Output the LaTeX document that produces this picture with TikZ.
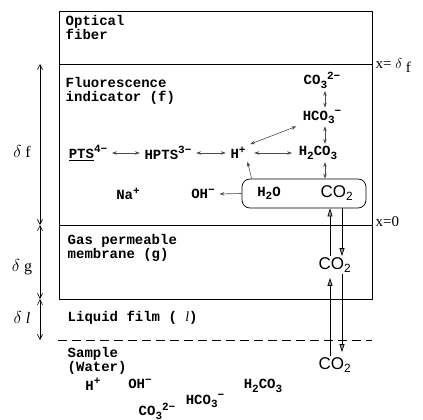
\documentclass[tikz,border=0pt]{standalone}
\usepackage{fontspec}
\setmainfont{Liberation Serif}
\setsansfont{Liberation Sans}
\setmonofont{Liberation Mono}
\usetikzlibrary{arrows.meta,positioning,calc}
\definecolor{rxgray}{gray}{0.3}
\definecolor{tipgray}{gray}{0.6}
\newcommand\sbs[1]{\raisebox{-0.45ex}{\fontsize{11}{11}\selectfont #1}}
\newcommand\sps[1]{\raisebox{0.75ex}{\fontsize{11}{11}\selectfont #1}}

\begin{document}
\begin{tikzpicture}[x=1pt, y=-1pt,
    every node/.style={font=\fontsize{14}{13.5}\selectfont\ttfamily\bfseries, inner sep=1.5pt},
    lbl/.style={anchor=north west, align=left},
    big/.style={font=\fontsize{17}{17}\selectfont\sffamily},
    dim/.style={font=\fontsize{16}{16}\selectfont\rmfamily},
    rx/.style={rxgray, line width=0.6pt, shorten <=3pt, shorten >=3pt,
      {Stealth[length=5pt,width=3.5pt]}-{Stealth[length=5pt,width=3.5pt]}},
    rxone/.style={rxgray, line width=0.6pt, shorten >=3pt, -{Stealth[length=5pt,width=3.5pt]}},
    gas/.style={line width=0.7pt, -{Triangle[length=8pt,width=5pt,fill=tipgray]}},
    dimarr/.style={line width=0.6pt, {Straight Barb[length=5pt,width=5pt]}-{Straight Barb[length=5pt,width=5pt]}}]
  \useasboundingbox (0,0) rectangle (423,420);

  % layers
  \draw[line width=0.8pt] (59,11) rectangle (372,299);
  \draw[line width=0.8pt] (59,64) -- (372,64);
  \draw[line width=0.8pt] (59,225) -- (372,225);
  \draw[dashed, dash pattern=on 9pt off 5pt, line width=0.7pt] (58,340) -- (372,340);

  \node[lbl] (fib) at (64,14) {Optical\\fiber};
  \node[lbl] (ind) at (64,76) {Fluorescence\\indicator (f)};
  \node[lbl] (mem) at (66,233) {Gas  permeable\\membrane (g)};
  \node[lbl] (liq) at (66,309) {Liquid film ( {\rmfamily\mdseries\itshape l})};
  \node[lbl] (smp) at (66,346) {Sample\\(Water)};

  % thicknesses
  \coordinate (d0) at (40,64);
  \coordinate (d1) at (40,225);
  \coordinate (d2) at (40,299);
  \coordinate (d3) at (40,340);
  \draw[dimarr] (d0) -- (d1);
  \draw[dimarr] (d1) -- (d2);
  \draw[dimarr] (d2) -- (d3);
  \node[dim] (df) at (22,151) {$\delta$ f};
  \node[dim] (dg) at (22,267) {$\delta$ g};
  \node[dim] (dl) at (22,317) {$\delta$ \textit{l}};
  \node[dim, anchor=west, font=\fontsize{15}{15}\selectfont\rmfamily] (xf) at (374,66) {x= $\delta$ \raisebox{-4pt}{f}};
  \node[dim, anchor=west, font=\fontsize{15}{15}\selectfont\rmfamily] (x0) at (374,222) {x=0};

  % indicator layer
  \node (co3) at (322,80) {CO\sbs{3}\sps{2−}};
  \node (hco3) at (322,117) {HCO\sbs{3}\sps{−}};
  \node (h2co3) at (318,153) {H\sbs{2}CO\sbs{3}};
  \node (hp) at (238,153) {H\sps{+}};
  \node (hpts) at (168,153) {HPTS\sps{3−}};
  \node (pts) at (88,153) {\underline{PTS}\sps{4−}};
  \node (na) at (128,194) {Na\sps{+}};
  \node (oh) at (203,194) {OH\sps{−}};
  \node[draw, line width=0.7pt, rounded corners=8pt, minimum width=124pt, minimum height=29pt] (bx) at (304,193.5) {};
  \node (h2o) at (269,193) {H\sbs{2}O};
  \node[big] (co2f) at (337,193) {CO\textsubscript{2}};

  \draw[rx] (pts) -- (hpts);
  \draw[rx] (hpts) -- (hp);
  \draw[rx] ([xshift=4pt]hp.east) -- ([xshift=-2pt]h2co3.west);
  \draw[rx] (hp.north east) -- ([xshift=-2pt]hco3.south west);
  \draw[rx, shorten <=1pt, shorten >=1pt] ([xshift=3pt]co3.south) -- ([xshift=3pt]co3.south |- hco3.north);
  \draw[rx, shorten <=1pt, shorten >=1pt] ([xshift=3pt]hco3.south) -- ([xshift=3pt]hco3.south |- h2co3.north);
  \draw[rx, shorten <=1pt, shorten >=0pt] ([xshift=7pt]h2co3.south) -- ([xshift=7pt]h2co3.south |- bx.north);
  \draw[rxone, shorten >=1pt] ([xshift=10pt]bx.north west) -- (hp.south east);
  \draw[rxone] (bx.west) -- (oh.east);

  % CO2 transport
  \node[big] (co2m) at (335,265) {CO\textsubscript{2}};
  \node[big] (co2s) at (335,365) {CO\textsubscript{2}};
  \draw[gas] ([xshift=-5pt]co2m.north) -- ([xshift=-5pt]co2m.north |- bx.south);
  \draw[gas] ([xshift=7pt]co2m.north |- bx.south) -- ([xshift=7pt]co2m.north);
  \draw[gas] ([xshift=-5pt]co2s.north) -- ([shift={(-5pt,-4pt)}]co2m.south);
  \draw[gas] ([xshift=7pt]co2m.south) -- ([shift={(7pt,4pt)}]co2s.north);

  % sample
  \node (hb) at (93,384) {H\sps{+}};
  \node (ohb) at (140,384) {OH\sps{−}};
  \node (h2co3b) at (263,386) {H\sbs{2}CO\sbs{3}};
  \node (hco3b) at (205,401) {HCO\sbs{3}\sps{−}};
  \node (co3b) at (157,411) {CO\sbs{3}\sps{2−}};
\end{tikzpicture}
\end{document}
